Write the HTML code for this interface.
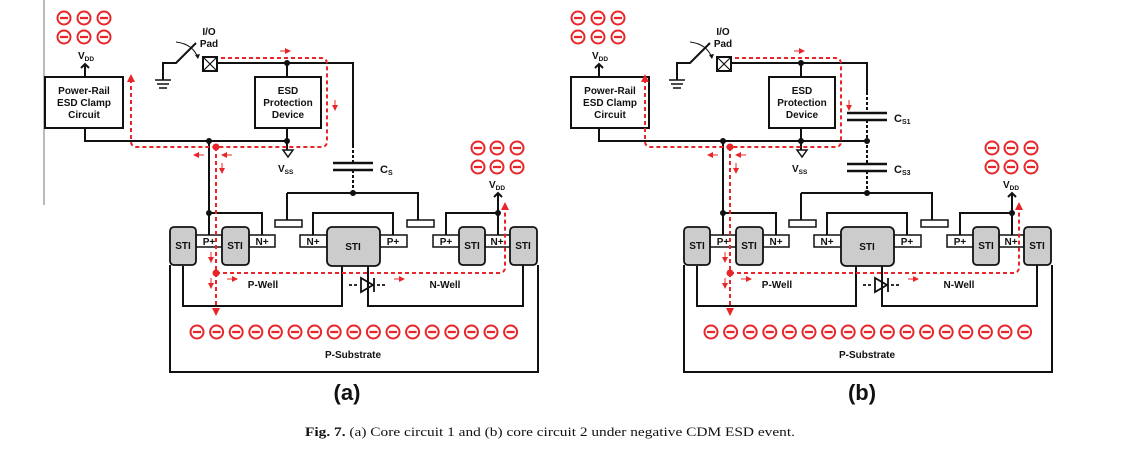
<!DOCTYPE html>
<html><head><meta charset="utf-8"><style>
html,body{margin:0;padding:0;background:#fff;}
svg{display:block;}
text{font-family:"Liberation Sans",Arial,sans-serif;font-weight:bold;font-size:10px;fill:#111;}
.cap{font-family:"Liberation Serif",serif;font-weight:normal;font-size:12.5px;}
.big{font-size:22px;}
.cs{font-size:11px;}
.sub{font-size:6.5px;}
.sub2{font-size:7px;}
</style></head><body>
<svg width="1135" height="456" viewBox="0 0 1135 456" xmlns="http://www.w3.org/2000/svg">
<defs>
<marker id="ah" markerWidth="6" markerHeight="6" refX="3" refY="3" orient="auto" markerUnits="userSpaceOnUse"><path d="M0,0 L6,3 L0,6 z" fill="#e8262a"/></marker>
<marker id="bh" markerWidth="8" markerHeight="8" refX="4" refY="4" orient="auto" markerUnits="userSpaceOnUse"><path d="M0,0 L8,4 L0,8 z" fill="#e8262a"/></marker>
</defs>
<line x1="44" y1="0" x2="44" y2="205" stroke="#777" stroke-width="1"/>

<!-- ===================== (a) ===================== -->
<g id="A">
<g stroke="#e8262a" stroke-width="2" fill="#fff">
<circle cx="64" cy="18" r="6.5"/><circle cx="84" cy="18" r="6.5"/><circle cx="104" cy="18" r="6.5"/>
<circle cx="64" cy="37" r="6.5"/><circle cx="84" cy="37" r="6.5"/><circle cx="104" cy="37" r="6.5"/>
<circle cx="478" cy="148" r="6.5"/><circle cx="497" cy="148" r="6.5"/><circle cx="517" cy="148" r="6.5"/>
<circle cx="478" cy="167" r="6.5"/><circle cx="497" cy="167" r="6.5"/><circle cx="517" cy="167" r="6.5"/>
</g>
<g stroke="#e8262a" stroke-width="2.2">
<path d="M60,18h8M80,18h8M100,18h8M60,37h8M80,37h8M100,37h8M474,148h8M493,148h8M513,148h8M474,167h8M493,167h8M513,167h8"/>
</g>
<text x="78" y="59">V<tspan class="sub" dy="2">DD</tspan></text>
<text x="489" y="188">V<tspan class="sub" dy="2">DD</tspan></text>
<g fill="none" stroke="#111" stroke-width="2">
<path d="M85,77V64M81,68l4,-4l4,4"/>
<rect x="45" y="77" width="78" height="51"/>
<path d="M85,128V141H287"/>
<rect x="255" y="77" width="66" height="51"/>
<path d="M217,63H353V145M287,63V77M287,128V150"/>
<path d="M353,145V163" stroke-dasharray="3,2"/>
<path d="M333,163h40M333,170h40" stroke-width="2.5"/>
<path d="M353,170V193" stroke-dasharray="3,2"/>
<rect x="203" y="57" width="14" height="14" fill="#fff"/>
<path d="M203,57l14,14M217,57l-14,14" stroke-width="1.2"/>
<path d="M163,80V63H176L196,43"/>
<path d="M155,80h16M157,84h12M159,88h8" stroke-width="1.5"/>
<path d="M283,150h10l-5,7z" stroke-width="1.5"/>
<path d="M209,141V235"/>
<path d="M209,213H262V235"/>
<path d="M287,193H418V220M287,193V220"/>
<path d="M313,235V213H393V235"/>
<path d="M446,235V213H498V235M498,213V193M494,197l4,-4l4,4"/>
<path d="M183,266V306H342V266M368,266V306H523V265"/>
<path d="M170,265V372H538V265"/>
</g>
<path d="M176,42 Q193,44 198,58" fill="none" stroke="#111" stroke-width="1"/>
<path d="M195,55l3,4l2,-5z" fill="#111"/>
<g fill="#111"><circle cx="209" cy="141" r="3"/><circle cx="287" cy="141" r="3"/><circle cx="287" cy="63" r="3"/><circle cx="353" cy="193" r="3"/><circle cx="209" cy="213" r="3"/><circle cx="498" cy="213" r="3"/></g>
<text x="288" y="94" text-anchor="middle">ESD</text>
<text x="288" y="106" text-anchor="middle">Protection</text>
<text x="288" y="118" text-anchor="middle">Device</text>
<text x="84" y="94" text-anchor="middle">Power-Rail</text>
<text x="84" y="106" text-anchor="middle">ESD Clamp</text>
<text x="84" y="118" text-anchor="middle">Circuit</text>
<text x="209" y="35" text-anchor="middle">I/O</text>
<text x="209" y="47" text-anchor="middle">Pad</text>
<text x="278" y="172">V<tspan class="sub" dy="2">SS</tspan></text>
<text x="380" y="173" class="cs">C<tspan class="sub2" dy="2">S</tspan></text>
<g fill="#fff" stroke="#111" stroke-width="1.5">
<rect x="275" y="220" width="27" height="7"/><rect x="407" y="220" width="27" height="7"/>
<rect x="196" y="235" width="26" height="12"/><rect x="249" y="235" width="26" height="12"/>
<rect x="300" y="235" width="27" height="12"/><rect x="380" y="235" width="27" height="12"/>
<rect x="433" y="235" width="27" height="12"/><rect x="485" y="235" width="25" height="12"/>
</g>
<g fill="#ccc" stroke="#111" stroke-width="1.8">
<rect x="170" y="227" width="26" height="38" rx="4"/><rect x="222" y="227" width="27" height="38" rx="4"/>
<rect x="327" y="227" width="53" height="39" rx="5"/><rect x="459" y="227" width="26" height="38" rx="4"/>
<rect x="510" y="227" width="27" height="38" rx="4"/>
</g>
<text x="183" y="249" text-anchor="middle">STI</text><text x="235" y="249" text-anchor="middle">STI</text>
<text x="353" y="250" text-anchor="middle">STI</text><text x="472" y="249" text-anchor="middle">STI</text>
<text x="523" y="249" text-anchor="middle">STI</text>
<text x="209" y="245" text-anchor="middle">P+</text><text x="262" y="245" text-anchor="middle">N+</text>
<text x="313" y="245" text-anchor="middle">N+</text><text x="393" y="245" text-anchor="middle">P+</text>
<text x="446" y="245" text-anchor="middle">P+</text><text x="497" y="245" text-anchor="middle">N+</text>
<text x="263" y="288" text-anchor="middle">P-Well</text>
<text x="445" y="288" text-anchor="middle">N-Well</text>
<text x="353" y="358" text-anchor="middle">P-Substrate</text>
<g stroke="#111" stroke-width="1.8" fill="none">
<path d="M349,285h10M377,285h10" stroke-dasharray="3,2"/>
<path d="M361,278v14l12,-7z"/><path d="M374,278v14"/>
</g>
<g stroke="#e8262a" stroke-width="2" fill="#fff">
<circle cx="197" cy="332" r="6.5"/><circle cx="216.6" cy="332" r="6.5"/><circle cx="236.2" cy="332" r="6.5"/><circle cx="255.8" cy="332" r="6.5"/><circle cx="275.4" cy="332" r="6.5"/><circle cx="295" cy="332" r="6.5"/><circle cx="314.6" cy="332" r="6.5"/><circle cx="334.2" cy="332" r="6.5"/><circle cx="353.8" cy="332" r="6.5"/><circle cx="373.4" cy="332" r="6.5"/><circle cx="393" cy="332" r="6.5"/><circle cx="412.6" cy="332" r="6.5"/><circle cx="432.2" cy="332" r="6.5"/><circle cx="451.8" cy="332" r="6.5"/><circle cx="471.4" cy="332" r="6.5"/><circle cx="491" cy="332" r="6.5"/><circle cx="510.6" cy="332" r="6.5"/>
</g>
<g stroke="#e8262a" stroke-width="2.2"><path d="M193,332h8M212.6,332h8M232.2,332h8M251.8,332h8M271.4,332h8M291,332h8M310.6,332h8M330.2,332h8M349.8,332h8M369.4,332h8M389,332h8M408.6,332h8M428.2,332h8M447.8,332h8M467.4,332h8M487,332h8M506.6,332h8"/></g>
<g fill="none" stroke="#e8262a" stroke-width="2" stroke-dasharray="4,3">
<path d="M221,58H321Q327,58 327,64V141Q327,147 321,147H137Q131,147 131,141V78" marker-end="url(#bh)"/>
<path d="M216,147V312" marker-end="url(#bh)"/>
<path d="M216,273H499Q505,273 505,267V206" marker-end="url(#bh)"/>
</g>
<circle cx="216" cy="147" r="3.5" fill="#e8262a"/><circle cx="216" cy="273" r="3.5" fill="#e8262a"/>
<g stroke="#e8262a" stroke-width="1" fill="none">
<path d="M280,51h8" marker-end="url(#ah)"/><path d="M335,100v8" marker-end="url(#ah)"/>
<path d="M204,155h-8" marker-end="url(#ah)"/><path d="M232,155h-8" marker-end="url(#ah)"/>
<path d="M222,163v8" marker-end="url(#ah)"/><path d="M211,252v8" marker-end="url(#ah)"/>
<path d="M211,278v8" marker-end="url(#ah)"/><path d="M227,279h8" marker-end="url(#ah)"/>
<path d="M394,279h8" marker-end="url(#ah)"/>
</g>
<text x="347" y="400" text-anchor="middle" class="big">(a)</text>
</g>

<!-- ===================== (b) ===================== -->
<g transform="translate(514,0)">
<g stroke="#e8262a" stroke-width="2" fill="#fff">
<circle cx="64" cy="18" r="6.5"/><circle cx="84" cy="18" r="6.5"/><circle cx="104" cy="18" r="6.5"/>
<circle cx="64" cy="37" r="6.5"/><circle cx="84" cy="37" r="6.5"/><circle cx="104" cy="37" r="6.5"/>
<circle cx="478" cy="148" r="6.5"/><circle cx="497" cy="148" r="6.5"/><circle cx="517" cy="148" r="6.5"/>
<circle cx="478" cy="167" r="6.5"/><circle cx="497" cy="167" r="6.5"/><circle cx="517" cy="167" r="6.5"/>
</g>
<g stroke="#e8262a" stroke-width="2.2">
<path d="M60,18h8M80,18h8M100,18h8M60,37h8M80,37h8M100,37h8M474,148h8M493,148h8M513,148h8M474,167h8M493,167h8M513,167h8"/>
</g>
<text x="78" y="59">V<tspan class="sub" dy="2">DD</tspan></text>
<text x="489" y="188">V<tspan class="sub" dy="2">DD</tspan></text>
<g fill="none" stroke="#111" stroke-width="2">
<path d="M85,77V64M81,68l4,-4l4,4"/>
<rect x="57" y="77" width="78" height="51"/>
<path d="M85,128V141H353"/>
<rect x="255" y="77" width="66" height="51"/>
<path d="M217,63H353V92M287,63V77M287,128V150"/>
<path d="M353,92V113M353,120V164M353,171V193" stroke-dasharray="3,2"/>
<path d="M333,113h40M333,120h40M333,164h40M333,171h40" stroke-width="2.5"/>
<rect x="203" y="57" width="14" height="14" fill="#fff"/>
<path d="M203,57l14,14M217,57l-14,14" stroke-width="1.2"/>
<path d="M163,80V63H176L196,43"/>
<path d="M155,80h16M157,84h12M159,88h8" stroke-width="1.5"/>
<path d="M283,150h10l-5,7z" stroke-width="1.5"/>
<path d="M209,141V235"/>
<path d="M209,213H262V235"/>
<path d="M287,193H418V220M287,193V220"/>
<path d="M313,235V213H393V235"/>
<path d="M446,235V213H498V235M498,213V193M494,197l4,-4l4,4"/>
<path d="M183,266V306H342V266M368,266V306H523V265"/>
<path d="M170,265V372H538V265"/>
</g>
<path d="M176,42 Q193,44 198,58" fill="none" stroke="#111" stroke-width="1"/>
<path d="M195,55l3,4l2,-5z" fill="#111"/>
<g fill="#111"><circle cx="209" cy="141" r="3"/><circle cx="287" cy="141" r="3"/><circle cx="287" cy="63" r="3"/><circle cx="353" cy="141" r="3"/><circle cx="353" cy="193" r="3"/><circle cx="209" cy="213" r="3"/><circle cx="498" cy="213" r="3"/></g>
<text x="288" y="94" text-anchor="middle">ESD</text>
<text x="288" y="106" text-anchor="middle">Protection</text>
<text x="288" y="118" text-anchor="middle">Device</text>
<text x="96" y="94" text-anchor="middle">Power-Rail</text>
<text x="96" y="106" text-anchor="middle">ESD Clamp</text>
<text x="96" y="118" text-anchor="middle">Circuit</text>
<text x="209" y="35" text-anchor="middle">I/O</text>
<text x="209" y="47" text-anchor="middle">Pad</text>
<text x="278" y="172">V<tspan class="sub" dy="2">SS</tspan></text>
<text x="380" y="122" class="cs">C<tspan class="sub2" dy="2">S1</tspan></text>
<text x="380" y="173" class="cs">C<tspan class="sub2" dy="2">S3</tspan></text>
<g fill="#fff" stroke="#111" stroke-width="1.5">
<rect x="275" y="220" width="27" height="7"/><rect x="407" y="220" width="27" height="7"/>
<rect x="196" y="235" width="26" height="12"/><rect x="249" y="235" width="26" height="12"/>
<rect x="300" y="235" width="27" height="12"/><rect x="380" y="235" width="27" height="12"/>
<rect x="433" y="235" width="27" height="12"/><rect x="485" y="235" width="25" height="12"/>
</g>
<g fill="#ccc" stroke="#111" stroke-width="1.8">
<rect x="170" y="227" width="26" height="38" rx="4"/><rect x="222" y="227" width="27" height="38" rx="4"/>
<rect x="327" y="227" width="53" height="39" rx="5"/><rect x="459" y="227" width="26" height="38" rx="4"/>
<rect x="510" y="227" width="27" height="38" rx="4"/>
</g>
<text x="183" y="249" text-anchor="middle">STI</text><text x="235" y="249" text-anchor="middle">STI</text>
<text x="353" y="250" text-anchor="middle">STI</text><text x="472" y="249" text-anchor="middle">STI</text>
<text x="523" y="249" text-anchor="middle">STI</text>
<text x="209" y="245" text-anchor="middle">P+</text><text x="262" y="245" text-anchor="middle">N+</text>
<text x="313" y="245" text-anchor="middle">N+</text><text x="393" y="245" text-anchor="middle">P+</text>
<text x="446" y="245" text-anchor="middle">P+</text><text x="497" y="245" text-anchor="middle">N+</text>
<text x="263" y="288" text-anchor="middle">P-Well</text>
<text x="445" y="288" text-anchor="middle">N-Well</text>
<text x="353" y="358" text-anchor="middle">P-Substrate</text>
<g stroke="#111" stroke-width="1.8" fill="none">
<path d="M349,285h10M377,285h10" stroke-dasharray="3,2"/>
<path d="M361,278v14l12,-7z"/><path d="M374,278v14"/>
</g>
<g stroke="#e8262a" stroke-width="2" fill="#fff">
<circle cx="197" cy="332" r="6.5"/><circle cx="216.6" cy="332" r="6.5"/><circle cx="236.2" cy="332" r="6.5"/><circle cx="255.8" cy="332" r="6.5"/><circle cx="275.4" cy="332" r="6.5"/><circle cx="295" cy="332" r="6.5"/><circle cx="314.6" cy="332" r="6.5"/><circle cx="334.2" cy="332" r="6.5"/><circle cx="353.8" cy="332" r="6.5"/><circle cx="373.4" cy="332" r="6.5"/><circle cx="393" cy="332" r="6.5"/><circle cx="412.6" cy="332" r="6.5"/><circle cx="432.2" cy="332" r="6.5"/><circle cx="451.8" cy="332" r="6.5"/><circle cx="471.4" cy="332" r="6.5"/><circle cx="491" cy="332" r="6.5"/><circle cx="510.6" cy="332" r="6.5"/>
</g>
<g stroke="#e8262a" stroke-width="2.2"><path d="M193,332h8M212.6,332h8M232.2,332h8M251.8,332h8M271.4,332h8M291,332h8M310.6,332h8M330.2,332h8M349.8,332h8M369.4,332h8M389,332h8M408.6,332h8M428.2,332h8M447.8,332h8M467.4,332h8M487,332h8M506.6,332h8"/></g>
<g fill="none" stroke="#e8262a" stroke-width="2" stroke-dasharray="4,3">
<path d="M221,58H321Q327,58 327,64V141Q327,147 321,147H137Q131,147 131,141V78" marker-end="url(#bh)"/>
<path d="M216,147V312" marker-end="url(#bh)"/>
<path d="M216,273H499Q505,273 505,267V206" marker-end="url(#bh)"/>
</g>
<circle cx="216" cy="147" r="3.5" fill="#e8262a"/><circle cx="216" cy="273" r="3.5" fill="#e8262a"/>
<g stroke="#e8262a" stroke-width="1" fill="none">
<path d="M280,51h8" marker-end="url(#ah)"/><path d="M335,100v8" marker-end="url(#ah)"/>
<path d="M204,155h-8" marker-end="url(#ah)"/><path d="M232,155h-8" marker-end="url(#ah)"/>
<path d="M222,163v8" marker-end="url(#ah)"/><path d="M211,252v8" marker-end="url(#ah)"/>
<path d="M211,278v8" marker-end="url(#ah)"/><path d="M227,279h8" marker-end="url(#ah)"/>
<path d="M394,279h8" marker-end="url(#ah)"/>
</g>
<text x="348" y="400" text-anchor="middle" class="big">(b)</text>
</g>

<text class="cap" x="305" y="436" textLength="490" lengthAdjust="spacingAndGlyphs"><tspan font-weight="bold">Fig. 7.</tspan> (a) Core circuit 1 and (b) core circuit 2 under negative CDM ESD event.</text>
</svg>
</body></html>
